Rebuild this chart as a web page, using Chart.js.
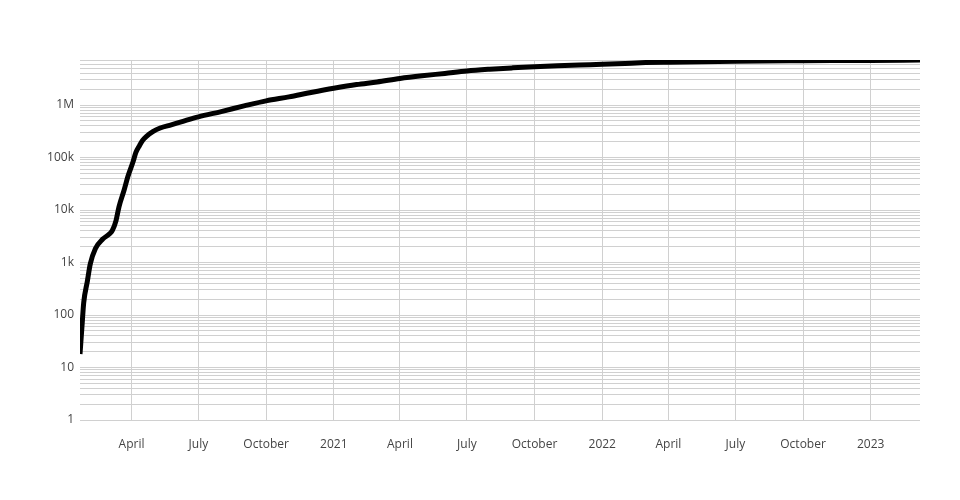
<!DOCTYPE html>
<html>
<head>
<meta charset="utf-8">
<script src="https://cdn.jsdelivr.net/npm/chart.js@4"></script>
<style>
  body { margin: 0; background: #fff; }
  #wrap { width: 960px; height: 500px; position: relative; }
</style>
</head>
<body>
<div id="wrap"><canvas id="chart"></canvas></div>
<script>
// cumulative totals
const dates = [
  '2020-01-22', '2020-01-25', '2020-01-27', '2020-02-01', '2020-02-05',
  '2020-02-12', '2020-02-22', '2020-03-03', '2020-03-06', '2020-03-11',
  '2020-03-15', '2020-03-22', '2020-03-27', '2020-04-03', '2020-04-07',
  '2020-04-12', '2020-04-16', '2020-04-21', '2020-04-30', '2020-05-10',
  '2020-05-25', '2020-06-10', '2020-07-01', '2020-08-01', '2020-09-01',
  '2020-10-01', '2020-11-01', '2020-12-01', '2021-01-01', '2021-02-01',
  '2021-03-01', '2021-04-01', '2021-05-01', '2021-06-01', '2021-07-01',
  '2021-08-01', '2021-09-01', '2021-10-01', '2021-11-01', '2021-12-01',
  '2022-01-01', '2022-02-01', '2022-03-01', '2022-04-01', '2022-07-01',
  '2022-10-01', '2023-01-01', '2023-03-09'
];
const totals = [
  18, 70, 170, 440, 940,
  1850, 2800, 3600, 4100, 6300,
  11500, 24000, 43000, 82000, 125000,
  170000, 210000, 250000, 310000, 365000,
  420000, 490000, 595000, 750000, 960000,
  1200000, 1430000, 1730000, 2080000, 2450000,
  2750000, 3200000, 3600000, 4000000, 4450000,
  4800000, 5100000, 5370000, 5600000, 5800000,
  5960000, 6200000, 6420000, 6550000, 6850000,
  6980000, 7050000, 7200000
];

const xTickDates = [
  '2020-04-01', '2020-07-01', '2020-10-01', '2021-01-01',
  '2021-04-01', '2021-07-01', '2021-10-01', '2022-01-01',
  '2022-04-01', '2022-07-01', '2022-10-01', '2023-01-01'
];
const xTickLabels = [
  'April', 'July', 'October', '2021',
  'April', 'July', 'October', '2022',
  'April', 'July', 'October', '2023'
];
const yMajorTicks = [1, 10, 100, 1000, 10000, 100000, 1000000];
const yMajorLabels = ['1', '10', '100', '1k', '10k', '100k', '1M'];

const points = dates.map((d, i) => ({ x: Date.parse(d), y: totals[i] }));
const xTicks = xTickDates.map(d => Date.parse(d));

const gridColor = '#d0d0d0';
const tickFont = { family: '"Open Sans"', size: 12 };

new Chart(document.getElementById('chart'), {
  type: 'line',
  data: {
    datasets: [{
      data: points,
      borderColor: '#000',
      borderWidth: 5,
      pointRadius: 0,
      cubicInterpolationMode: 'monotone',
      fill: false
    }]
  },
  options: {
    responsive: true,
    maintainAspectRatio: false,
    animation: false,
    layout: { padding: { left: 0, right: 40, top: 60, bottom: 0 } },
    plugins: { legend: { display: false }, tooltip: { enabled: false } },
    scales: {
      x: {
        type: 'linear',
        min: Date.parse('2020-01-22'),
        max: Date.parse('2023-03-09'),
        border: { display: false },
        grid: { color: gridColor, drawTicks: false },
        afterBuildTicks: scale => {
          scale.ticks = xTicks.map(v => ({ value: v }));
        },
        afterFit: scale => { scale.height = 80; },
        ticks: {
          autoSkip: false,
          maxRotation: 0,
          padding: 17,
          color: '#444',
          font: tickFont,
          callback: value => {
            const i = xTicks.indexOf(value);
            return i >= 0 ? xTickLabels[i] : '';
          }
        }
      },
      y: {
        type: 'logarithmic',
        min: 1,
        max: 7200000,
        border: { display: false },
        grid: { color: gridColor, drawTicks: false },
        afterBuildTicks: scale => {
          const t = [];
          yMajorTicks.forEach(base => {
            for (let k = 1; k <= 9; k++) {
              const v = base * k;
              if (v <= scale.max) t.push({ value: v });
            }
          });
          scale.ticks = t;
        },
        afterFit: scale => { scale.width = 80; },
        ticks: {
          autoSkip: false,
          padding: 6,
          color: '#444',
          font: tickFont,
          callback: value => {
            const i = yMajorTicks.indexOf(value);
            return i >= 0 ? yMajorLabels[i] : '';
          }
        }
      }
    }
  }
});
</script>
</body>
</html>
